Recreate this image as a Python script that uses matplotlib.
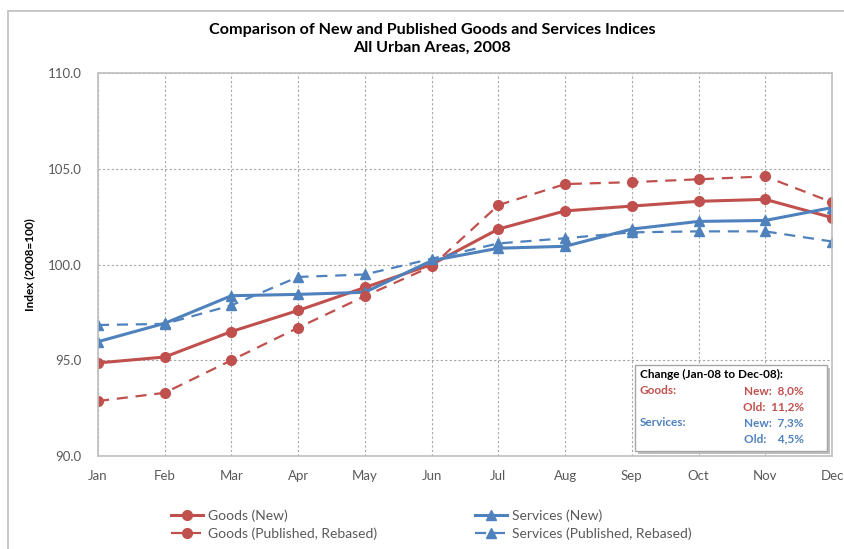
import numpy as np
import matplotlib.pyplot as plt
from matplotlib.lines import Line2D
from matplotlib.patches import Rectangle, FancyBboxPatch

plt.rcParams['font.family'] = ['Lato', 'DejaVu Sans']

# Данные
months = ["Jan", "Feb", "Mar", "Apr", "May", "Jun", "Jul", "Aug", "Sep", "Oct", "Nov", "Dec"]
goods_new = [94.86, 95.17, 96.5, 97.6, 98.8, 100.0, 101.85, 102.8, 103.05, 103.3, 103.4, 102.45]
goods_pub = [92.87, 93.3, 95.0, 96.7, 98.35, 99.9, 103.1, 104.2, 104.3, 104.45, 104.6, 103.25]
services_new = [95.97, 96.93, 98.37, 98.44, 98.55, 100.2, 100.85, 100.95, 101.85, 102.25, 102.3, 102.97]
services_pub = [96.84, 96.9, 97.87, 99.35, 99.48, 100.3, 101.1, 101.37, 101.68, 101.73, 101.73, 101.2]

change_goods = ["New:  8,0%", "Old:  11,2%"]
change_services = ["New:  7,3%", "Old:    4,5%"]

red = "#C0504D"
blue = "#4F81BD"
tick_col = "#595959"

fig = plt.figure(figsize=(8.44, 5.49), dpi=100)
ax = fig.add_axes([98 / 844, 1 - 456 / 549, (832 - 98) / 844, (456 - 73) / 549])

# Рамка всего графика
fig.patches.append(Rectangle((8 / 844, -0.1), 1.2, 1 - 11 / 549 + 0.1, transform=fig.transFigure,
                             fill=False, edgecolor="#BFBFBF", linewidth=1.2))

x = np.arange(len(months))
ax.plot(x, goods_new, color=red, marker="o", markersize=7, linewidth=2.2, label="Goods (New)")
ax.plot(x, services_new, color=blue, marker="^", markersize=7, linewidth=2.2, label="Services (New)")
ax.plot(x, goods_pub, color=red, marker="o", markersize=7, linewidth=1.6, linestyle=(0, (5, 3.5)),
        label="Goods (Published, Rebased)")
ax.plot(x, services_pub, color=blue, marker="^", markersize=7, linewidth=1.6, linestyle=(0, (5, 3.5)),
        label="Services (Published, Rebased)")

ax.set_xlim(0, 11)
ax.set_ylim(90, 110)
ax.set_xticks(x)
ax.set_xticklabels(months)
ax.set_yticks(np.arange(90, 110.1, 5))
ax.set_yticklabels([f"{v:.1f}" for v in np.arange(90, 110.1, 5)])
ax.tick_params(length=0, colors=tick_col, labelsize=9.5, pad=10)
ax.tick_params(axis="y", pad=12)
ax.grid(True, color="#A6A6A6", linestyle=(0, (2, 2)), linewidth=0.8)
for s in ax.spines.values():
    s.set_color("#BFBFBF")
    s.set_linewidth(1.2)
ax.set_ylabel("Index (2008=100)", fontsize=8.5, fontweight="bold", color="black", labelpad=9)

fig.text(432 / 844, 1 - 30 / 549, "Comparison of New and Published Goods and Services Indices",
         ha="center", va="center", fontsize=11.6, fontweight="bold")
fig.text(432 / 844, 1 - 48 / 549, "All Urban Areas, 2008",
         ha="center", va="center", fontsize=11.6, fontweight="bold")

# Легенда
handles = [
    Line2D([], [], color=red, marker="o", markersize=7, linewidth=2.2),
    Line2D([], [], color=red, marker="o", markersize=7, linewidth=1.6, linestyle=(0, (5, 3.5))),
    Line2D([], [], color=blue, marker="^", markersize=7, linewidth=2.2),
    Line2D([], [], color=blue, marker="^", markersize=7, linewidth=1.6, linestyle=(0, (5, 3.5))),
]
labels = ["Goods (New)", "Goods (Published, Rebased)", "Services (New)", "Services (Published, Rebased)"]
fig.legend(handles, labels, loc="center", bbox_to_anchor=(0.511, 1 - 525 / 549), ncol=2, frameon=False,
           fontsize=10, columnspacing=7.0, handlelength=2.3, handletextpad=0.4, labelspacing=0.4,
           labelcolor=tick_col)

# Блок с изменениями
bx0, by0, bx1, by1 = 635, 365, 827, 451
sh = FancyBboxPatch((bx0 + 3, 549 - by1 - 3), bx1 - bx0, by1 - by0, boxstyle="square,pad=0",
                    transform=None, facecolor="#BFBFBF", edgecolor="none", zorder=5)
box = FancyBboxPatch((bx0, 549 - by1), bx1 - bx0, by1 - by0, boxstyle="square,pad=0",
                     transform=None, facecolor="white", edgecolor="#A6A6A6", linewidth=1, zorder=6)
fig.patches.extend([sh, box])


def fx(px):
    return px / 844


def fy(py):
    return 1 - py / 549


fig.text(fx(640), fy(374), "Change (Jan-08 to Dec-08):", fontsize=8.5, fontweight="bold",
         va="center", zorder=7)
fig.text(fx(640), fy(391), "Goods:", fontsize=8.5, fontweight="bold", color=red, va="center", zorder=7)
fig.text(fx(640), fy(423), "Services:", fontsize=8.5, fontweight="bold", color=blue, va="center", zorder=7)
for i, t in enumerate(change_goods):
    fig.text(fx(804), fy(391 + 16 * i), t, fontsize=8.5, fontweight="bold", color=red,
             ha="right", va="center", zorder=7)
for i, t in enumerate(change_services):
    fig.text(fx(804), fy(423 + 16 * i), t, fontsize=8.5, fontweight="bold", color=blue,
             ha="right", va="center", zorder=7)

fig.savefig("out.png", dpi=100)
